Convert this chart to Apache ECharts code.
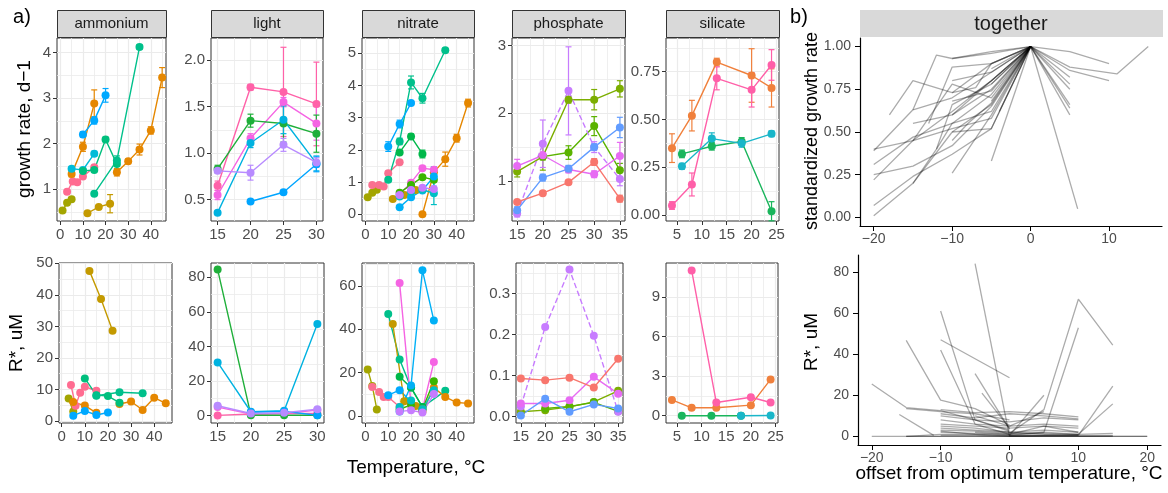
<!DOCTYPE html>
<html>
<head>
<meta charset="utf-8">
<script src="https://cdn.jsdelivr.net/npm/echarts@6/dist/echarts.min.js"></script>
<style>
html, body { margin: 0; padding: 0; background: #fff; }
#chart { width: 1168px; height: 493px; }
</style>
</head>
<body>
<div id="chart"></div>
<script>
// ---------- values ----------

// ammonium
var ammoniumX = [[1,3,5],[12,17,22],[3,5.5,7.5,10,15],[5,10,15],[25,30,35,40,45],[10,15,20],[5,10,15],[10,15,20,25],[15,25,35]];
var ammoniumGrowth = [[0.53,0.70,0.78],[0.47,0.61,0.68],[0.94,1.17,1.15,1.28,1.48],[1.33,1.93,2.88],[1.37,1.61,1.87,2.29,3.45],[2.20,2.51,3.06],[1.45,1.42,1.78],[1.40,1.42,2.09,1.55],[0.90,1.63,4.12]];
var ammoniumGrowthErr = [[0.03,0.03,0.03],[0.03,0.03,0.2],[0.04,0.04,0.04,0.04,0.04],[0.06,0.1,0.3],[0.08,0.05,0.12,0.08,0.22],[0.06,0.08,0.15],[0.04,0.05,0.05],[0.04,0.04,0.05,0.12],[0.03,0.1,0.05]];
var ammoniumColors = ['#A3A500','#C49A00','#FF6C91','#E58700','#E58700','#00A9FF','#00BCD8','#00BF7D','#00C08B'];
var ammoniumRX = [[3,5],[12,17,22],[4,6,8,10,15],[5,10,15],[25,30,35,40,45],[5,10,15,20],[10,15,20,25],[15,25,35]];
var ammoniumR = [[7.1,3.0],[47.6,38.7,28.6],[11.4,4.8,9.0,10.9,9.6],[6.0,4.9,2.6],[5.4,6.2,3.5,7.4,5.6],[1.7,3.2,1.9,2.7],[13.5,8.2,7.9,5.8],[8.0,9.1,8.8]];
var ammoniumRColors = ['#A3A500','#C49A00','#FF6C91','#E58700','#E58700','#00A9FF','#00BF7D','#00C08B'];

// light
var lightX = [[15,20,25,30],[15,20,25,30],[15,20,25,30],[15,20,25,30],[20,25,30],[15,20,25,30]];
var lightGrowth = [[0.65,1.71,1.66,1.53],[0.55,1.16,1.55,1.32],[0.83,1.35,1.32,1.21],[0.36,1.11,1.36,0.89],[0.48,0.58,0.88],[0.81,0.79,1.09,0.90]];
var lightGrowthErr = [[0.05,0.03,0.48,0.45],[0.05,0.05,0.05,0.18],[0.04,0.07,0.2,0.2],[0.02,0.05,0.15,0.08],[0.02,0.02,0.08],[0.02,0.08,0.07,0.05]];
var lightColors = ['#FF61A8','#F564E3','#1FAF3A','#00B2E0','#00A5FF','#B88BFF'];
var lightR = [[0.2,1.0,1.3,1.3],[5.0,1.0,1.2,3.3],[84.5,0.3,0.3,0.3],[30.8,2.3,2.9,53.0],[2.0,2.5,0.3],[5.8,1.3,1.7,3.8]];

// nitrate
var nitrateX = [[1,3,5],[3,6,8,10,15],[10,15,20,25,35],[15,20,25],[10,15,20],[25,30,35,40,45],[12,17,22],[15,20,25,30],[15,20,25,30],[15,20,25,30],[15,20,25,30],[15,20,25,30]];
var nitrateGrowth = [[0.53,0.67,0.76],[0.91,0.91,0.86,1.27,1.61],[1.07,2.26,4.09,3.60,5.09],[1.92,2.41,1.87],[2.10,2.80,3.45],[0.00,1.30,1.71,2.36,3.45],[0.47,0.60,0.75],[0.62,0.98,1.43,1.38],[0.67,0.91,1.15,1.07],[0.22,0.53,0.74,1.17],[0.55,0.70,0.76,0.65],[0.60,0.75,0.82,0.78]];
var nitrateGrowthErr = [[0.03,0.03,0.03],[0.04,0.04,0.04,0.06,0.04],[0.06,0.1,0.2,0.15,0.06],[0.05,0.08,0.12],[0.15,0.12,0.06],[0.03,0.1,0.22,0.12,0.12],[0.03,0.03,0.04],[0.05,0.05,0.06,0.05],[0.04,0.05,0.05,0.05],[0.05,0.06,0.05,0.3],[0.04,0.05,0.05,0.35],[0.04,0.05,0.05,0.05]];
var nitrateColors = ['#A3A500','#FA7090','#00C08B','#00B84A','#00A9FF','#E58700','#C49A00','#F564E3','#39B600','#00B0F6','#00BFC4','#C77CFF'];
var nitrateR = [[21.4,13.8,2.9],[13.3,11.0,8.7,8.7,4.0],[47,26,13,4,11.5],[18,13,4],[9.5,11.8,6.5],[2.0,13.0,8.7,6.1,5.7],[42.4,6.7,4.5],[61.3,5.0,3.0,24.8],[3.0,5.0,3.0,16.0],[2.0,14.0,67.2,44.0],[4.0,7.0,3.0,11.8],[2.0,2.5,1.5,10.0]];

// phosphate
var phosphateX = [[15,20,25,30,35],[20,25,30,35],[15,20,25,30,35],[15,20,25,30,35],[15,20,25,30,35],[15,20,25,30,35]];
var phosphateGrowth = [[1.14,1.36,2.20,2.20,2.36],[1.36,1.42,1.81,1.16],[0.52,1.55,2.33,1.50,1.03],[1.22,1.38,1.17,1.10,1.37],[0.57,1.05,1.18,1.50,1.79],[0.69,0.82,0.98,1.28,0.74]];
var phosphateGrowthErr = [[0.08,0.2,0.05,0.15,0.12],[0.05,0.1,0.14,0.1],[0.05,0.35,0.65,0.08,0.1],[0.1,0.05,0.05,0.05,0.2],[0.05,0.05,0.05,0.05,0.15],[0.03,0.03,0.03,0.05,0.05]];
var phosphateColors = ['#7CAE00','#5BB300','#C77CFF','#E76BF3','#619CFF','#F8766D'];
var phosphateLineTypes = ['solid','solid','dashed','solid','solid','solid'];
var phosphateR = [[0.012,0.016,0.024,0.036,0.063],[0.020,0.025,0.035,0.013],[0.025,0.218,0.358,0.197,0.012],[0.032,0.032,0.040,0.097,0.056],[0.003,0.044,0.012,0.030,0.020],[0.093,0.089,0.095,0.071,0.141]];

// silicate
var silicateX = [[4,8,13,20,24],[4,8,13,20,24],[6,12,18,24],[6,12,18,24]];
var silicateGrowth = [[0.35,0.52,0.80,0.73,0.665],[0.05,0.16,0.715,0.655,0.785],[0.32,0.36,0.385,0.02],[0.255,0.40,0.375,0.425]];
var silicateGrowthErr = [[0.075,0.08,0.02,0.14,0.1],[0.02,0.06,0.06,0.09,0.08],[0.02,0.02,0.02,0.05],[0.015,0.03,0.02,0.015]];
var silicateColors = ['#F0803C','#FF5FA8','#1AB55C','#19B6C9'];
var silicateRX = [[4,8,13,20,24],[8,13,20,24],[6,12,18],[18,24]];
var silicateR = [[1.2,0.6,0.6,0.8,2.75],[11.0,1.0,1.4,1.0],[0,0,0],[0,0.02]];

// b) standardised curves
var growthVsOffset = [
  [[-20,0.01],[-15,0.20],[-10,0.50],[-5,0.66],[0,1]],
  [[-20,0.07],[-15,0.24],[-10,0.37],[-5,0.52],[0,1]],
  [[-20,0.22],[-15,0.45],[-10,0.62],[-5,0.80],[0,1]],
  [[-20,0.25],[-15,0.30],[-10,0.42],[-5,0.65],[0,1]],
  [[-20,0.31],[-15,0.47],[-10,0.55],[-5,0.72],[0,1]],
  [[-20,0.39],[-15,0.63],[-10,0.70],[-5,0.85],[0,1]],
  [[-20,0.40],[-15,0.45],[-10,0.52],[-5,0.58],[0,1]],
  [[-18,0.60],[-15,0.80],[-10,0.73],[-5,0.90],[0,1]],
  [[-15,0.20],[-12,0.40],[-10,0.66],[-5,0.78],[0,1]],
  [[-15,0.63],[-12,0.95],[-10,0.93],[-5,0.97],[0,1]],
  [[-15,0.55],[-10,0.60],[-5,0.75],[0,1]],
  [[-15,0.45],[-10,0.78],[-5,0.70],[0,1]],
  [[-12,0.40],[-10,0.55],[-5,0.62],[0,1]],
  [[-10,0.26],[-5,0.60],[0,1]],
  [[-10,0.45],[-8,0.55],[-5,0.67],[0,1]],
  [[-10,0.93],[-5,0.96],[0,1]],
  [[-10,0.80],[-5,0.85],[0,1]],
  [[-10,0.68],[-5,0.74],[0,1]],
  [[-10,0.60],[-5,0.80],[0,1]],
  [[-10,0.50],[-5,0.52],[0,1]],
  [[-10,0.73],[-7,0.76],[-5,0.90],[0,1]],
  [[-13,0.55],[-10,0.88],[-5,0.90],[0,1]],
  [[-8,0.70],[-5,0.80],[0,1]],
  [[-5,0.33],[0,1]],
  [[-5,0.68],[0,1]],
  [[-5,0.78],[0,1]],
  [[-5,0.87],[0,1]],
  [[-4,0.62],[0,1]],
  [[0,1],[5,0.97],[10,0.90]],
  [[0,1],[5,0.86],[10,0.80]],
  [[0,1],[5,0.88],[11,0.84],[15,1.0]],
  [[0,1],[5,0.82]],
  [[0,1],[5,0.78]],
  [[0,1],[5,0.75]],
  [[0,1],[5,0.66]],
  [[0,1],[5,0.64]],
  [[0,1],[5,0.60]],
  [[0,1],[6,0.05]]
];
var rstarVsOffset = [
  [[-20,25.5],[-15,14],[-10,12.5],[-5,8],[0,3]],
  [[-16,10.6],[-11,0.5]],
  [[-15,46.7],[-10,17.6],[-5,13.5],[0,5.5]],
  [[-10,61],[-5,8],[0,2.4]],
  [[-10,47],[0,28.5]],
  [[-10,42],[-5,6],[0,1]],
  [[-5,84],[0,0]],
  [[-5,30.5],[0,3.5]],
  [[-4,21],[0,4]],
  [[0,1.5],[5,13],[10,66.7],[15,44.4]],
  [[0,0.5],[5,20]],
  [[0,0.5],[5,2],[10,52.8]],
  [[10,0.5],[15,24.4]],
  [[10,1],[15,15.8]],
  [[-20,0],[-10,0],[0,0],[10,0],[20,0]],
  [[-15,0],[-5,0],[5,0],[15,0]],
  [[-15,13.5],[-10,12],[-5,11],[0,8]],
  [[-10,10],[-5,8],[0,7],[5,9],[10,8]],
  [[-10,8],[-5,6],[0,5],[5,6],[10,5]],
  [[-10,6],[-5,5],[0,4],[5,5],[10,4]],
  [[-10,3],[-5,2.5],[0,1.5],[5,2],[10,1]],
  [[-10,2],[-5,1.5],[0,1],[5,1.5],[10,1]],
  [[-10,13],[-5,11.5],[0,12],[5,11],[10,9.5]],
  [[-10,11],[-5,9],[0,11],[5,10],[10,8.5]],
  [[-10,0.5],[-5,0.5],[0,0],[5,0.3],[10,0.3],[15,0.5]],
  [[-10,2.5],[-5,1],[0,0.5],[5,0.5],[10,0.5]],
  [[-15,0],[-10,1],[-5,1],[0,0.3],[5,0.5],[10,1],[15,1.5]],
  [[-10,4],[-5,3],[0,2],[5,3],[10,2]],
  [[-5,10],[0,5],[5,12]],
  [[-10,5],[-5,4],[0,2],[5,1],[10,0.5]],
  [[-5,2],[0,1],[5,5],[10,2]],
  [[0,0],[5,0],[10,0],[20,0]]
];

// tick labels
var ammoniumTempTicks = [0,10,20,30,40];
var lightTempTicks = [15,20,25,30];
var nitrateTempTicks = [0,10,20,30,40];
var phosphateTempTicks = [15,20,25,30,35];
var silicateTempTicks = [5,10,15,20,25];
var ammoniumGrowthTicks = [1,2,3,4];
var lightGrowthTicks = [0.5,1.0,1.5,2.0];
var nitrateGrowthTicks = [0,1,2,3,4,5];
var phosphateGrowthTicks = [1,2,3];
var silicateGrowthTicks = [0,0.25,0.5,0.75];
var ammoniumRTicks = [0,10,20,30,40,50];
var lightRTicks = [0,20,40,60,80];
var nitrateRTicks = [0,20,40,60];
var phosphateRTicks = [0,0.1,0.2,0.3];
var silicateRTicks = [0,3,6,9];
var offsetGrowthXTicks = [-20,-10,0,10];
var offsetGrowthYTicks = [0,0.25,0.5,0.75,1];
var offsetRXTicks = [-20,-10,0,10,20];
var offsetRYTicks = [0,20,40,60,80];

var stripNames = ['ammonium','light','nitrate','phosphate','silicate'];

// ---------- layout ----------
var FONT = 'Liberation Sans, Arial, Helvetica, sans-serif';

var panels = [
  { rect: [57, 38, 109, 183], xr: [-1.45, 46.7], yr: [0.30, 4.32], xt: ammoniumTempTicks, yt: ammoniumGrowthTicks, yd: 0, xs: ammoniumX, ys: ammoniumGrowth, es: ammoniumGrowthErr, cs: ammoniumColors },
  { rect: [211, 38, 112, 183], xr: [14, 31], yr: [0.27, 2.24], xt: lightTempTicks, yt: lightGrowthTicks, yd: 1, xs: lightX, ys: lightGrowth, es: lightGrowthErr, cs: lightColors },
  { rect: [362, 38, 112, 183], xr: [-1.5, 47.6], yr: [-0.21, 5.47], xt: nitrateTempTicks, yt: nitrateGrowthTicks, yd: 0, xs: nitrateX, ys: nitrateGrowth, es: nitrateGrowthErr, cs: nitrateColors },
  { rect: [512, 38, 113, 183], xr: [14, 36], yr: [0.41, 3.11], xt: phosphateTempTicks, yt: phosphateGrowthTicks, yd: 0, xs: phosphateX, ys: phosphateGrowth, es: phosphateGrowthErr, cs: phosphateColors, lt: phosphateLineTypes },
  { rect: [666, 38, 113, 183], xr: [2.8, 25.5], yr: [-0.031, 0.926], xt: silicateTempTicks, yt: silicateGrowthTicks, yd: 2, xs: silicateX, ys: silicateGrowth, es: silicateGrowthErr, cs: silicateColors },

  { rect: [59, 263, 113, 160], xr: [-1.17, 47.7], yr: [-0.63, 50.1], xt: ammoniumTempTicks, yt: ammoniumRTicks, yd: 0, xs: ammoniumRX, ys: ammoniumR, cs: ammoniumRColors },
  { rect: [211, 263, 113, 160], xr: [14, 31], yr: [-4.2, 88.3], xt: lightTempTicks, yt: lightRTicks, yd: 0, xs: lightX, ys: lightR, cs: lightColors },
  { rect: [362, 263, 112, 160], xr: [-1.5, 47.6], yr: [-3.35, 70.6], xt: nitrateTempTicks, yt: nitrateRTicks, yd: 0, xs: nitrateX, ys: nitrateR, cs: nitrateColors },
  { rect: [516, 263, 107, 160], xr: [14, 36], yr: [-0.0153, 0.374], xt: phosphateTempTicks, yt: phosphateRTicks, yd: 1, xs: phosphateX, ys: phosphateR, cs: phosphateColors, lt: phosphateLineTypes },
  { rect: [666, 263, 112, 160], xr: [2.8, 25.5], yr: [-0.55, 11.56], xt: silicateTempTicks, yt: silicateRTicks, yd: 0, xs: silicateRX, ys: silicateR, cs: silicateColors },

  { rect: [860, 38, 302, 188], xr: [-21.75, 16.75], yr: [-0.05, 1.05], xt: offsetGrowthXTicks, yt: offsetGrowthYTicks, yd: 2, classic: true, lines: growthVsOffset },
  { rect: [858, 255, 303, 190], xr: [-22, 22], yr: [-4.2, 88.2], xt: offsetRXTicks, yt: offsetRYTicks, yd: 0, classic: true, lines: rstarVsOffset }
];

function minorValues(ticks, range) {
  var step = ticks[1] - ticks[0];
  var out = [];
  for (var i = -1; i < ticks.length; i++) {
    var v = ticks[0] + step * (i + 0.5);
    if (v > range[0] && v < range[1]) out.push(v);
  }
  return out;
}

function fmt(decimals) {
  return function (v) {
    return Number(v).toFixed(decimals).replace('-', '\u2212');
  };
}

var grids = [], xAxes = [], yAxes = [], series = [];

function makeAxis(k, range, ticks, decimals, isX, classic) {
  var minor = minorValues(ticks, range);
  var gridLine = '#EBEBEB';
  var minorAxis = {
    type: 'value', gridIndex: k, min: range[0], max: range[1],
    position: isX ? 'bottom' : 'left',
    axisLine: { show: false },
    axisTick: { show: false, customValues: minor },
    axisLabel: { show: false },
    splitLine: { show: !classic, customValues: minor, lineStyle: { color: gridLine, width: 0.8 } }
  };
  var majorAxis = {
    type: 'value', gridIndex: k, min: range[0], max: range[1],
    position: isX ? 'bottom' : 'left',
    axisLine: { show: !!classic, onZero: false, lineStyle: { color: '#000', width: 1.2 } },
    axisTick: { show: true, customValues: ticks, length: classic ? 5 : 4, lineStyle: { color: classic ? '#000' : '#333', width: 1 } },
    axisLabel: {
      customValues: ticks, formatter: fmt(isX ? 0 : decimals),
      color: '#4D4D4D', fontFamily: FONT, fontSize: classic ? 14 : 15,
      margin: classic ? (isX ? 6 : 9) : 6
    },
    splitLine: { show: !classic, customValues: ticks, lineStyle: { color: gridLine, width: 1.2 } }
  };
  return [minorAxis, majorAxis];
}

function errorBars(xs, ys, es, color, ai) {
  var data = xs.map(function (x, i) { return [x, ys[i] - es[i], ys[i] + es[i]]; });
  return {
    type: 'custom', xAxisIndex: ai, yAxisIndex: ai, data: data, silent: true, z: 2,
    encode: { x: 0, y: [1, 2] },
    renderItem: function (params, api) {
      var lo = api.coord([api.value(0), api.value(1)]);
      var hi = api.coord([api.value(0), api.value(2)]);
      var w = 3;
      var st = { stroke: color, lineWidth: 1.2 };
      return {
        type: 'group', children: [
          { type: 'line', shape: { x1: lo[0], y1: lo[1], x2: hi[0], y2: hi[1] }, style: st },
          { type: 'line', shape: { x1: lo[0] - w, y1: lo[1], x2: lo[0] + w, y2: lo[1] }, style: st },
          { type: 'line', shape: { x1: hi[0] - w, y1: hi[1], x2: hi[0] + w, y2: hi[1] }, style: st }
        ]
      };
    }
  };
}

panels.forEach(function (p, k) {
  grids.push({
    left: p.rect[0], top: p.rect[1], width: p.rect[2], height: p.rect[3],
    show: !p.classic, backgroundColor: '#fff', borderColor: '#333', borderWidth: 1,
    containLabel: false, outerBoundsMode: 'none'
  });
  var xa = makeAxis(k, p.xr, p.xt, 0, true, p.classic);
  var ya = makeAxis(k, p.yr, p.yt, p.yd, false, p.classic);
  xAxes.push(xa[0], xa[1]);
  yAxes.push(ya[0], ya[1]);
  var ai = 2 * k + 1;

  if (p.lines) {
    p.lines.forEach(function (line) {
      series.push({
        type: 'line', xAxisIndex: ai, yAxisIndex: ai, data: line,
        symbol: 'none', silent: true, z: 3,
        lineStyle: { color: 'rgba(0,0,0,0.33)', width: 1.3 }
      });
    });
    return;
  }
  p.xs.forEach(function (xs, i) {
    var color = p.cs[i];
    if (p.es) series.push(errorBars(xs, p.ys[i], p.es[i], color, ai));
    series.push({
      type: 'line', xAxisIndex: ai, yAxisIndex: ai,
      data: xs.map(function (x, j) { return [x, p.ys[i][j]]; }),
      symbol: 'circle', symbolSize: 8, showSymbol: true, silent: true, z: 3,
      lineStyle: { color: color, width: 1.4, type: p.lt ? p.lt[i] : 'solid' },
      itemStyle: { color: color }
    });
  });
});

// strips and titles
var graphics = [];
for (var s = 0; s < 5; s++) {
  var r = panels[s].rect;
  graphics.push({
    type: 'rect', shape: { x: r[0] + 0.5, y: 10.5, width: r[2], height: 27 },
    style: { fill: '#D9D9D9', stroke: '#333', lineWidth: 1 }, z: 10
  });
  graphics.push({
    type: 'text', x: r[0] + r[2] / 2, y: 24, z: 11,
    style: { text: stripNames[s], fontFamily: FONT, fontSize: 15, fill: '#1A1A1A', align: 'center', verticalAlign: 'middle' }
  });
}
graphics.push({ type: 'rect', shape: { x: 860, y: 10, width: 303, height: 27 }, style: { fill: '#D9D9D9' }, z: 10 });
graphics.push({ type: 'text', x: 1011, y: 24, z: 11, style: { text: 'together', fontFamily: FONT, fontSize: 20, fill: '#1A1A1A', align: 'center', verticalAlign: 'middle' } });

function label(text, x, y, size, rotate) {
  return {
    type: 'text', x: x, y: y, rotation: rotate ? Math.PI / 2 : 0, z: 11,
    style: { text: text, fontFamily: FONT, fontSize: size, fill: '#000', align: 'center', verticalAlign: 'middle' }
  };
}
graphics.push(label('a)', 22, 17, 20, false));
graphics.push(label('b)', 799, 17, 20, false));
graphics.push(label('growth rate, d\u22121', 25, 129, 19, true));
graphics.push(label('R*, uM', 17, 343, 19, true));
graphics.push(label('Temperature, \u00B0C', 416, 468, 19, false));
graphics.push(label('standardized growth rate', 812, 131, 18, true));
graphics.push(label('R*, uM', 812, 342, 19, true));
graphics.push(label('offset from optimum temperature, \u00B0C', 1009, 474, 19, false));

var chart = echarts.init(document.getElementById('chart'), null, { renderer: 'canvas' });
chart.setOption({
  animation: false,
  backgroundColor: '#fff',
  textStyle: { fontFamily: FONT },
  grid: grids,
  xAxis: xAxes,
  yAxis: yAxes,
  series: series,
  graphic: graphics
});
</script>
</body>
</html>
